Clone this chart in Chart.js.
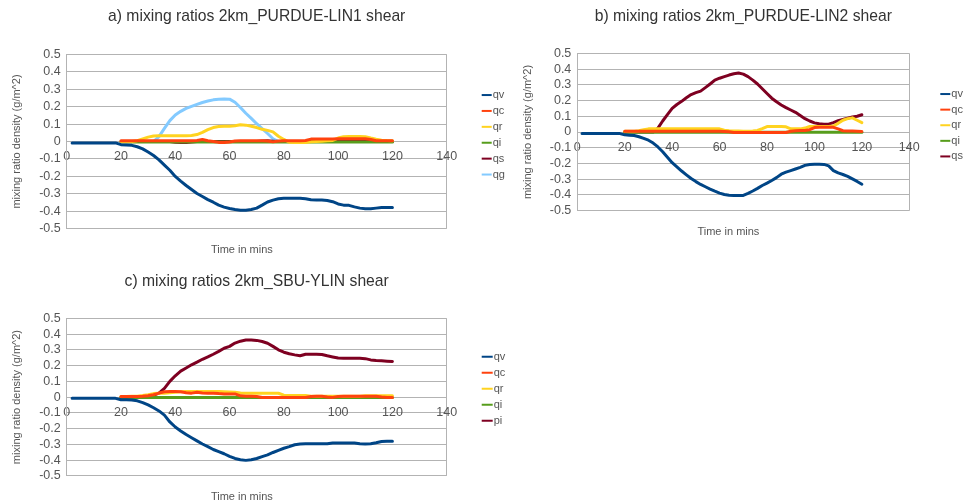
<!DOCTYPE html>
<html>
<head>
<meta charset="utf-8">
<script src="https://cdn.jsdelivr.net/npm/chart.js@4.4.1/dist/chart.umd.min.js"></script>
<style>
  html, body { margin: 0; padding: 0; background: #ffffff; }
  body { width: 971px; height: 504px; position: relative; overflow: hidden; }
  canvas { position: absolute; }
</style>
</head>
<body>
<canvas id="chartA" width="525" height="262" style="left:0px;top:0px"></canvas>
<canvas id="chartB" width="471" height="245" style="left:500px;top:0px"></canvas>
<canvas id="chartC" width="525" height="242" style="left:0px;top:262px"></canvas>
<script>
// Model output times (minutes). Water vapour is sampled from the start,
// the hydrometeor species from minute 20 onward.
const minutesAll = [2,4,6,8,10,12,14,16,18,20,22,24,26,28,30,32,34,36,38,40,42,44,46,48,50,52,54,56,58,60,62,64,66,68,70,72,74,76,78,80,82,84,86,88,90,92,94,96,98,100,102,104,106,108,110,112,114,116,118,120];
const minutesHydro = [20,22,24,26,28,30,32,34,36,38,40,42,44,46,48,50,52,54,56,58,60,62,64,66,68,70,72,74,76,78,80,82,84,86,88,90,92,94,96,98,100,102,104,106,108,110,112,114,116,118,120];

const xTicks = [0, 20, 40, 60, 80, 100, 120, 140];
const yTicks = [-0.5, -0.4, -0.3, -0.2, -0.1, 0, 0.1, 0.2, 0.3, 0.4, 0.5];

// a) 2km_PURDUE-LIN1 shear
const linA_qv = [-0.008,-0.008,-0.008,-0.008,-0.008,-0.008,-0.008,-0.008,-0.008,
  -0.018,-0.02,-0.022,-0.03,-0.042, -0.06,-0.08,-0.105,-0.135,-0.165,
  -0.2,-0.227,-0.252,-0.275,-0.298, -0.315,-0.333,-0.348,-0.365,-0.376,
  -0.384,-0.39,-0.394,-0.394,-0.39, -0.382,-0.365,-0.347,-0.336,-0.328,
  -0.325,-0.325,-0.325,-0.325,-0.328, -0.334,-0.335,-0.335,-0.338,-0.345,
  -0.358,-0.365,-0.366,-0.375,-0.382, -0.385,-0.385,-0.382,-0.379,-0.379, -0.379];
const linA_qc = [0.004,0.004,0.004,0.004,0.004,0.004,0.004,0.004,0.004,0.004,
  0.004,0.004,0.004,0.004,0.006, 0.012,0.004,0,-0.005,-0.005,
  -0.003,0.003,0.004,0.004,0.004, 0.004,0.004,0.003,-0.002,0.003,
  0.004,0.004,0.004,0.004,0.006, 0.014,0.015,0.015,0.015,0.015,
  0.016,0.016,0.016,0.016,0.016, 0.016,0.012,0.004,0.004,0.004, 0.004];
const linA_qr = [0,0,0,0.005,0.015,0.025,0.032,0.033,0.033,0.033,
  0.033,0.033,0.033,0.035,0.04, 0.052,0.068,0.08,0.086,0.087,
  0.087,0.09,0.096,0.094,0.088, 0.08,0.07,0.064,0.055,0.03,
  0.012,-0.004,-0.006,-0.006,-0.005, -0.002,0,0.002,0.004,0.006,
  0.02,0.028,0.029,0.029,0.029, 0.028,0.02,0.013,0.008,0.006, 0.005];
const linA_qi = [-0.003,-0.003,-0.003,-0.003,-0.003,-0.003,-0.003,-0.003,-0.003,-0.003,
  -0.003,-0.003,-0.003,-0.003,-0.003, -0.003,-0.003,-0.003,-0.003,-0.003,
  -0.003,-0.003,-0.003,-0.003,-0.003, -0.003,-0.003,-0.003,-0.003,-0.003,
  -0.003,-0.003,-0.003,-0.003,-0.003, -0.003,-0.003,-0.003,-0.003,-0.003,
  -0.003,-0.003,-0.003,-0.003,-0.003, -0.003,-0.003,-0.003,-0.003,-0.003, -0.003];
const linA_qs = [0,0,0,0,0,0,0,0,0,0,
  -0.004,-0.005,-0.005,-0.003,0, 0,0,0,0,0,
  0,0,0,0,0, 0,0.003,0.004,0.002,0,
  0,0,0,0,0, 0,0,0,0,0,
  0,0,0,0,0, 0,0,0,0,0, 0];
const linA_qg = [0,0,0,0,0,0,0,0.028,0.075,0.12,
  0.152,0.173,0.19,0.202,0.213, 0.224,0.232,0.239,0.243,0.244,
  0.243,0.225,0.195,0.162,0.133, 0.102,0.074,0.046,0.016,0,
  0,0,0,0,0, 0,0,0,0,0,
  0,0,0,0,0, 0,0,0,0,0, 0];

// b) 2km_PURDUE-LIN2 shear
const linB_qv = [-0.01,-0.01,-0.01,-0.01,-0.01,-0.01,-0.01,-0.01,-0.01,
  -0.018,-0.02,-0.022,-0.03,-0.04, -0.052,-0.07,-0.095,-0.125,-0.16,
  -0.195,-0.222,-0.248,-0.272,-0.295, -0.315,-0.333,-0.348,-0.363,-0.376,
  -0.388,-0.397,-0.402,-0.404,-0.404, -0.403,-0.39,-0.375,-0.358,-0.34,
  -0.325,-0.308,-0.29,-0.268,-0.255, -0.245,-0.235,-0.225,-0.212,-0.206,
  -0.205,-0.205,-0.206,-0.215,-0.245, -0.26,-0.27,-0.282,-0.298,-0.314, -0.332];
const linB_qc = [0.005,0.005,0.005,0.005,0.005,0.005,0.005,0.005,0.005,0.005,
  0.005,0.005,0.005,0.005,0.005, 0.005,0.005,0.005,0.005,0.005,
  0.005,0.004,0.002,-0.003,-0.003, -0.003,-0.003,-0.003,-0.003,-0.003,
  -0.003,-0.003,-0.003,-0.003,-0.003, 0.005,0.008,0.01,0.01,0.015,
  0.028,0.03,0.03,0.03,0.03, 0.02,0.008,0.006,0.006,0.005, 0.004];
const linB_qr = [0.005,0.005,0.005,0.008,0.015,0.02,0.02,0.02,0.02,0.02,
  0.02,0.02,0.02,0.02,0.02, 0.02,0.02,0.02,0.02,0.02,
  0.02,0.012,0.008,0.006,0.006, 0.005,0.005,0.006,0.01,0.022,
  0.035,0.035,0.035,0.035,0.033, 0.02,0.02,0.02,0.025,0.035,
  0.035,0.035,0.035,0.035,0.038, 0.055,0.075,0.085,0.09,0.075, 0.06];
const linB_qi = [-0.002,-0.002,-0.002,-0.002,-0.002,-0.002,-0.002,-0.002,-0.002,-0.002,
  -0.002,-0.002,-0.002,-0.002,-0.002, -0.002,-0.002,-0.002,-0.002,-0.002,
  -0.002,-0.002,-0.002,-0.002,-0.002, -0.002,-0.002,-0.002,-0.002,-0.002,
  -0.002,-0.002,-0.002,-0.002,-0.002, -0.002,-0.002,-0.002,-0.002,-0.002,
  -0.002,-0.002,-0.002,-0.002,-0.002, -0.002,-0.002,-0.002,-0.002,-0.002, -0.002];
const linB_qs = [0,0,0,0,0,0,0,0.025,0.07,0.11,
  0.15,0.175,0.195,0.218,0.238, 0.25,0.26,0.282,0.305,0.33,
  0.342,0.352,0.362,0.37,0.375, 0.368,0.352,0.33,0.305,0.275,
  0.245,0.215,0.192,0.172,0.155, 0.14,0.125,0.105,0.085,0.07,
  0.058,0.052,0.05,0.05,0.06, 0.072,0.08,0.088,0.095,0.1, 0.11];

// c) 2km_SBU-YLIN shear
const ylin_qv = [-0.008,-0.008,-0.008,-0.008,-0.008,-0.008,-0.008,-0.008,-0.008,
  -0.017,-0.017,-0.018,-0.024,-0.035, -0.05,-0.068,-0.088,-0.115,-0.158,
  -0.19,-0.215,-0.238,-0.258,-0.278, -0.298,-0.315,-0.333,-0.346,-0.36,
  -0.376,-0.39,-0.398,-0.402,-0.398, -0.39,-0.378,-0.367,-0.352,-0.338,
  -0.325,-0.315,-0.303,-0.298,-0.297, -0.297,-0.297,-0.297,-0.297,-0.292,
  -0.291,-0.291,-0.291,-0.291,-0.296, -0.298,-0.296,-0.29,-0.282,-0.281, -0.281];
const ylin_qc = [0.004,0.004,0.004,0.004,0.005,0.008,0.015,0.025,0.034,0.035,
  0.035,0.034,0.028,0.025,0.03, 0.026,0.025,0.025,0.022,0.02,
  0.02,0.02,0.008,0.005,0.005, 0.003,-0.003,-0.003,-0.003,-0.003,
  -0.003,-0.003,-0.003,-0.003,-0.003, 0.004,0.005,0.005,0,-0.002,
  0.004,0.005,0.005,0.005,0.005, 0.005,0.005,0.005,0,-0.002, -0.002];
const ylin_qr = [0.004,0.004,0.005,0.006,0.01,0.015,0.022,0.025,0.025,0.028,
  0.03,0.034,0.036,0.036,0.036, 0.036,0.036,0.036,0.036,0.034,
  0.032,0.03,0.026,0.025,0.025, 0.025,0.025,0.025,0.025,0.024,
  0.012,0.01,0.01,0.01,0.01, 0.005,0.005,0.005,0.005,0.005,
  0.005,0.005,0.005,0.005,0.005, 0.008,0.008,0.008,0.008,0.008, 0.008];
const ylin_qi = [-0.002,-0.002,-0.002,-0.002,-0.002,-0.002,-0.002,-0.002,-0.002,-0.002,
  -0.002,-0.002,-0.002,-0.002,-0.002, -0.002,-0.002,-0.002,-0.002,-0.002,
  -0.002,-0.002,-0.002,-0.002,-0.002, -0.002,-0.002,-0.002,-0.002,-0.002,
  -0.002,-0.002,-0.002,-0.002,-0.002, -0.002,-0.002,-0.002,-0.002,-0.002,
  -0.002,-0.002,-0.002,-0.002,-0.002, -0.002,-0.002,-0.002,-0.002,-0.002, -0.002];
const ylin_pi = [0,0,0,0,0,0,0.012,0.025,0.055,0.1,
  0.135,0.165,0.185,0.205,0.222, 0.24,0.255,0.272,0.29,0.31,
  0.322,0.343,0.355,0.362,0.363, 0.36,0.353,0.342,0.322,0.3,
  0.285,0.275,0.268,0.262,0.272, 0.272,0.272,0.27,0.262,0.255,
  0.248,0.246,0.246,0.246,0.246, 0.244,0.236,0.232,0.23,0.228, 0.226];

// Series colours
const C_QV = '#004586', C_QC = '#ff420e', C_QR = '#ffd320',
      C_QI = '#579d1c', C_QS = '#7e0021', C_QG = '#83caff';
const GRID = '#b3b3b3', TICK = '#555555', TITLE = '#333333';

Chart.defaults.font.family = '"Liberation Sans", Arial, sans-serif';

function series(label, color, times, values) {
  return {
    label: label,
    data: times.map((t, i) => ({ x: t, y: values[i] })),
    borderColor: color,
    backgroundColor: color,
    borderWidth: 3,
    pointRadius: 0,
    tension: 0,
    fill: false,
    borderJoinStyle: 'round',
    borderCapStyle: 'round'
  };
}

// Legend drawn to the right of the plot: short coloured stroke + name
const sideLegend = {
  id: 'sideLegend',
  afterDraw(chart, args, opts) {
    const { ctx, chartArea } = chart;
    ctx.save();
    ctx.font = '11px "Liberation Sans", Arial, sans-serif';
    ctx.textBaseline = 'middle';
    ctx.textAlign = 'left';
    chart.data.datasets.forEach((ds, i) => {
      const y = chartArea.top + opts.top + i * opts.rowGap;
      const x0 = chartArea.right + opts.left;
      ctx.strokeStyle = ds.borderColor;
      ctx.lineWidth = 2;
      ctx.beginPath();
      ctx.moveTo(x0, y);
      ctx.lineTo(x0 + opts.lineLen, y);
      ctx.stroke();
      ctx.fillStyle = TICK;
      ctx.fillText(ds.label, x0 + opts.lineLen + 1, y);
    });
    ctx.restore();
  }
};

function buildOptions(cfg) {
  return {
    responsive: false,
    animation: false,
    events: [],
    layout: { padding: { left: cfg.padLeft, right: cfg.padRight, top: 0, bottom: cfg.padBottom } },
    scales: {
      x: {
        type: 'linear',
        min: xTicks[0],
        max: xTicks[xTicks.length - 1],
        position: { y: 0 },
        afterBuildTicks: s => { s.ticks = xTicks.map(v => ({ value: v })); },
        ticks: { padding: 8, color: TICK, font: { size: 12.5 }, maxRotation: 0, autoSkip: false },
        grid: {
          drawTicks: false,
          lineWidth: 1,
          color: c => (c.tick && c.tick.value === xTicks[xTicks.length - 1]) ? GRID : 'rgba(0,0,0,0)'
        },
        border: { display: false }
      },
      y: {
        type: 'linear',
        min: yTicks[0],
        max: yTicks[yTicks.length - 1],
        afterBuildTicks: s => { s.ticks = yTicks.map(v => ({ value: v })); },
        ticks: { padding: 6, color: TICK, font: { size: 12.5 }, autoSkip: false },
        grid: { drawTicks: false, color: GRID, lineWidth: 1 },
        border: { display: true, color: GRID },
        title: {
          display: true,
          text: 'mixing ratio density (g/m^2)',
          color: TICK,
          font: { size: 11 },
          padding: { top: cfg.yTitlePad, bottom: 0 }
        },
        afterFit: s => { s.width = cfg.yWidth; }
      }
    },
    plugins: {
      legend: { display: false },
      tooltip: { enabled: false },
      title: {
        display: true,
        fullSize: false,
        text: cfg.title,
        color: TITLE,
        font: { size: 15.7, weight: 'normal' },
        padding: { top: cfg.titleTop, bottom: cfg.titleBottom }
      },
      subtitle: {
        display: true,
        position: 'bottom',
        fullSize: true,
        text: 'Time in mins',
        color: TICK,
        font: { size: 11, weight: 'normal' },
        padding: { top: cfg.capTop, bottom: 0 }
      },
      sideLegend: cfg.legend
    }
  };
}

new Chart(document.getElementById('chartA'), {
  type: 'line',
  data: {
    datasets: [
      series('qv', C_QV, minutesAll, linA_qv),
      series('qc', C_QC, minutesHydro, linA_qc),
      series('qr', C_QR, minutesHydro, linA_qr),
      series('qi', C_QI, minutesHydro, linA_qi),
      series('qs', C_QS, minutesHydro, linA_qs),
      series('qg', C_QG, minutesHydro, linA_qg)
    ]
  },
  options: buildOptions({
    title: 'a) mixing ratios 2km_PURDUE-LIN1 shear',
    padLeft: 37, padRight: 78.3, padBottom: 5.4, yWidth: 29.7, yTitlePad: -26.6,
    titleTop: 7.6, titleBottom: 27.9, capTop: 14.7,
    legend: { left: 35, top: 40.7, rowGap: 15.9, lineLen: 10 }
  }),
  plugins: [sideLegend]
});

new Chart(document.getElementById('chartB'), {
  type: 'line',
  data: {
    datasets: [
      series('qv', C_QV, minutesAll, linB_qv),
      series('qc', C_QC, minutesHydro, linB_qc),
      series('qr', C_QR, minutesHydro, linB_qr),
      series('qi', C_QI, minutesHydro, linB_qi),
      series('qs', C_QS, minutesHydro, linB_qs)
    ]
  },
  options: buildOptions({
    title: 'b) mixing ratios 2km_PURDUE-LIN2 shear',
    padLeft: 47.5, padRight: 61.7, padBottom: 6.1, yWidth: 29.8, yTitlePad: -26.1,
    titleTop: 7.6, titleBottom: 26.9, capTop: 15,
    legend: { left: 31, top: 40.7, rowGap: 15.6, lineLen: 10 }
  }),
  plugins: [sideLegend]
});

new Chart(document.getElementById('chartC'), {
  type: 'line',
  data: {
    datasets: [
      series('qv', C_QV, minutesAll, ylin_qv),
      series('qc', C_QC, minutesHydro, ylin_qc),
      series('qr', C_QR, minutesHydro, ylin_qr),
      series('qi', C_QI, minutesHydro, ylin_qi),
      series('pi', C_QS, minutesHydro, ylin_pi)
    ]
  },
  options: buildOptions({
    title: 'c) mixing ratios 2km_SBU-YLIN shear',
    padLeft: 37, padRight: 78.3, padBottom: 0, yWidth: 29.7, yTitlePad: -26.6,
    titleTop: 10.3, titleBottom: 27.2, capTop: 15,
    legend: { left: 35, top: 38.4, rowGap: 16, lineLen: 11 }
  }),
  plugins: [sideLegend]
});
</script>
</body>
</html>
